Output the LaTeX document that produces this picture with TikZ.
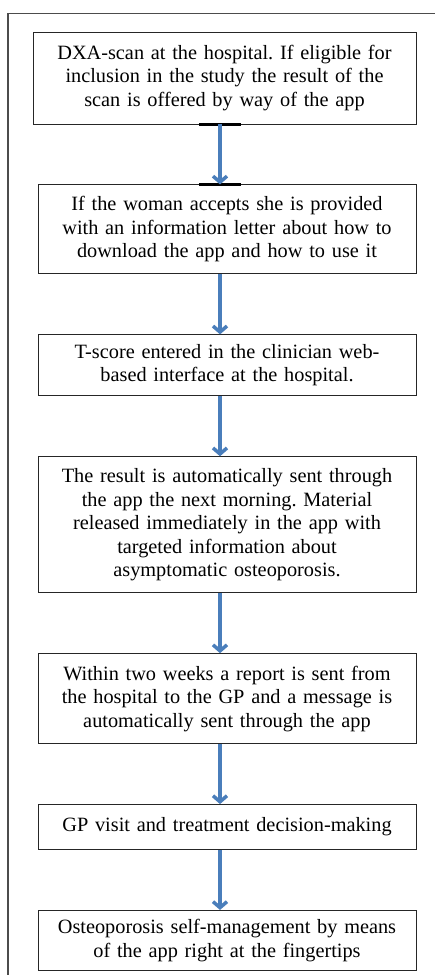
\documentclass[tikz,border=0pt]{standalone}
\usepackage{fontspec}
\setmainfont{Liberation Serif}
\usepackage{tikz}
\usetikzlibrary{positioning, arrows.meta}
\definecolor{flowblue}{RGB}{74,126,187}
\frenchspacing

\tikzset{
  stepbox/.style={draw=black!85, line width=0.9pt, align=center, text width=370pt,
    inner xsep=4pt, font=\fontsize{20.3}{23.5}\selectfont},
  flow/.style={flowblue, line width=3.5pt, -{Straight Barb[length=6pt,width=14pt]}},
  bar/.style={black, line width=3pt},
}

\begin{document}
\begin{tikzpicture}[x=1pt,y=-1pt,node distance=60pt]
    \useasboundingbox (0,0) rectangle (435,975);
    \draw[black!70, line width=1.1pt] (435,13.5) -- (8,13.5) -- (8,975);
    \coordinate (axis) at (220,0);

      \node[stepbox, text width=375pt, minimum height=92pt] (scan) at (224.5,78)
        {DXA-scan at the hospital. If eligible for\\inclusion in the study the result of the\\scan is offered by way of the app};
      \node[stepbox, minimum height=89pt] (letter) [below=of scan, xshift=2.5pt]
        {If the woman accepts she is provided\\with an information letter about how to\\download the app and how to use it};
      \node[stepbox, minimum height=61pt] (tscore) [below=of letter]
        {T-score entered in the clinician web-\\based interface at the hospital.};
      \node[stepbox, minimum height=136pt] (result) [below=of tscore]
        {The result is automatically sent through\\the app the next morning. Material\\released immediately in the app with\\targeted information about\\asymptomatic osteoporosis.};
      \node[stepbox, minimum height=90pt] (report) [below=of result]
        {Within two weeks a report is sent from\\the hospital to the GP and a message is\\automatically sent through the app};
      \node[stepbox, minimum height=45pt] (gp) [below=of report]
        {GP visit and treatment decision-making};
      \node[stepbox, minimum height=60pt] (selfman) [below=of gp]
        {Osteoporosis self-management by means\\of the app right at the fingertips};

      \coordinate (b1) at (scan.south -| axis);
      \coordinate (b2) at (letter.north -| axis);
      \draw[bar] ([xshift=-21pt]b1) -- ([xshift=21pt]b1);
      \draw[bar] ([xshift=-21pt]b2) -- ([xshift=21pt]b2);

      \foreach \a/\b in {scan/letter, letter/tscore, tscore/result, result/report, report/gp, gp/selfman}
        \draw[flow] (\a.south -| axis) -- (\b.north -| axis);
    \end{tikzpicture}
\end{document}
